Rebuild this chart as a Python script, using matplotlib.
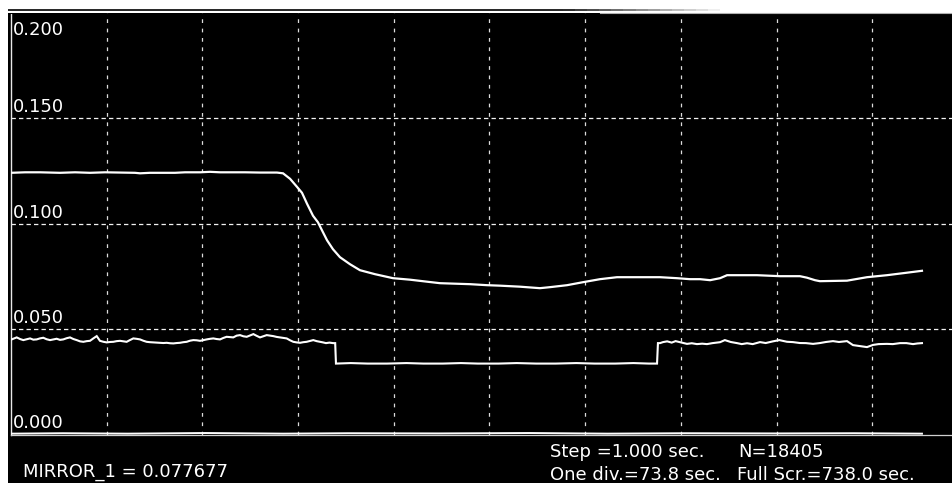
import matplotlib
matplotlib.use("Agg")
import matplotlib.pyplot as plt
from matplotlib.collections import LineCollection
import numpy as np

# ---- recorded channels (time in s, value) ----
mirror_t = [0, 10.8, 22.4, 37.8, 49.4, 60.9, 72.5, 95.6, 99.5, 107.2, 126.5, 134.2,
            145.8, 153.5, 161.2, 172.7, 180.5, 192.0, 205.1, 209.8, 215.2, 220.5,
            224.4, 228.3, 232.9, 236.7, 239.8, 243.7, 248.3, 253.7, 261.4, 269.1,
            280.7, 294.6, 307.7, 320.8, 330.8, 342.4, 354.0, 367.1, 377.1, 392.5,
            407.9, 415.6, 428.8, 441.1, 454.2, 467.3, 485.1, 500.5, 513.6, 523.6,
            531.4, 539.1, 546.8, 552.2, 575.3, 593.0, 608.4, 613.8, 620.0, 623.8,
            644.7, 660.1, 675.5, 687.9, 702.5]
mirror_v = [0.12417, 0.12441, 0.12441, 0.12417, 0.12441, 0.12417, 0.12441, 0.12417,
            0.12393, 0.12417, 0.12417, 0.12441, 0.12441, 0.12464, 0.12441, 0.12441,
            0.12441, 0.12429, 0.12429, 0.12393, 0.12133, 0.11754, 0.11469, 0.10948,
            0.10379, 0.10071, 0.09692, 0.09218, 0.08791, 0.08412, 0.08081, 0.07796,
            0.07607, 0.07417, 0.07346, 0.07251, 0.07180, 0.07156, 0.07133, 0.07085,
            0.07062, 0.07014, 0.06943, 0.06991, 0.07085, 0.07227, 0.07370, 0.07464,
            0.07464, 0.07464, 0.07417, 0.07370, 0.07370, 0.07322, 0.07417, 0.07559,
            0.07559, 0.07512, 0.07512, 0.07441, 0.07322, 0.07275, 0.07299, 0.07464,
            0.07559, 0.07654, 0.077677]

# second channel as (time, value) samples
beam_samples = [
    (0.5, .04512), (2.5, .04560), (4.4, .04607), (7.0, .04530), (9.5, .04479),
    (12.0, .04520), (14.7, .04559), (17.2, .04500), (19.8, .04512), (22.3, .04560),
    (24.9, .04590), (27.5, .04520), (30.1, .04479), (32.6, .04510), (35.2, .04543),
    (37.8, .04490), (40.3, .04512), (43.0, .04570), (45.5, .04607), (48.1, .04530),
    (50.7, .04479), (53.2, .04420), (55.8, .04398), (58.4, .04430), (60.9, .04445),
    (63.5, .04560), (66.1, .04668), (68.6, .04445), (71.2, .04400), (73.8, .04370),
    (76.3, .04390), (78.9, .04398), (81.5, .04430), (84.1, .04445), (86.6, .04420),
    (89.2, .04398), (91.7, .04480), (94.3, .04559), (96.9, .04540), (99.5, .04512),
    (102.0, .04450), (104.6, .04398), (107.2, .04380), (109.7, .04370), (112.3, .04360),
    (114.9, .04351), (117.5, .04340), (120.1, .04351), (122.6, .04330), (125.2, .04322),
    (127.8, .04340), (130.3, .04351), (132.9, .04380), (135.5, .04398), (138.0, .04450),
    (140.6, .04479), (143.2, .04470), (145.8, .04445), (148.3, .04480), (150.9, .04512),
    (153.5, .04540), (156.0, .04559), (158.6, .04530), (161.2, .04512), (163.7, .04580),
    (166.3, .04636), (168.9, .04620), (171.4, .04607), (174.0, .04690), (176.6, .04716),
    (179.2, .04660), (181.8, .04636), (184.3, .04700), (186.9, .04763), (189.5, .04680),
    (192.0, .04607), (194.6, .04660), (197.2, .04716), (199.7, .04690), (202.3, .04668),
    (204.9, .04630), (207.4, .04607), (210.0, .04580), (212.6, .04559), (215.2, .04470),
    (217.7, .04398), (220.3, .04370), (222.9, .04351), (225.4, .04380), (228.0, .04398),
    (230.6, .04440), (233.1, .04479), (235.7, .04430), (238.3, .04398), (240.6, .04370),
    (242.9, .04336), (245.6, .04360), (248.3, .04336), (250.0, .04336),
    (250.6, .03365), (262.0, .03389), (275.0, .03365), (290.0, .03365), (305.0, .03389),
    (318.0, .03365), (333.0, .03365), (347.0, .03389), (360.0, .03365), (376.0, .03365),
    (390.0, .03389), (405.0, .03365), (420.0, .03365), (436.0, .03389), (450.0, .03365),
    (466.0, .03365), (480.0, .03389), (492.0, .03365), (498.2, .03365),
    (498.9, .04336), (500.5, .04336), (502.8, .04384), (506.0, .04420), (509.5, .04360),
    (512.5, .04431), (515.9, .04380), (518.6, .04336), (521.3, .04300), (525.0, .04330),
    (529.0, .04289), (533.0, .04310), (536.7, .04289), (541.0, .04336), (546.8, .04380),
    (550.5, .04479), (555.0, .04390), (559.9, .04336), (563.5, .04289), (567.6, .04330),
    (572.0, .04289), (577.6, .04384), (582.0, .04340), (587.6, .04420), (592.5, .04479),
    (598.4, .04400), (603.0, .04384), (608.4, .04340), (613.0, .04336), (618.5, .04300),
    (623.5, .04336), (628.5, .04390), (633.9, .04431), (638.5, .04390), (644.7, .04431),
    (649.3, .04242), (654.0, .04200), (660.1, .04147), (664.7, .04250), (669.0, .04289),
    (675.5, .04300), (680.0, .04289), (685.6, .04336), (690.5, .04336), (695.6, .04289),
    (699.0, .04320), (702.5, .04336),
]
beam_t = [t for t, _ in beam_samples]
beam_v = [v for _, v in beam_samples]

base_t = [0, 40, 90, 150, 210, 260, 330, 400, 460, 520, 590, 650, 702.5]
base_v = [0.0004, 0.0006, 0.0004, 0.0007, 0.0004, 0.0006, 0.0005, 0.0007, 0.0004,
          0.0006, 0.0005, 0.0006, 0.0004]

y_ticks = [0.000, 0.050, 0.100, 0.150, 0.200]
y_tick_labels = ["0.000", "0.050", "0.100", "0.150", "0.200"]
full_screen = 738.0
n_div = 10

W, H = 952, 483
fig = plt.figure(figsize=(W / 100, H / 100), dpi=100, facecolor="white")

def fx(px):
    return px / W

def fy(py):
    return (H - py) / H

# black screen behind everything
fig.patches.append(plt.Rectangle((fx(8), 0), 1 - fx(8), fy(13), transform=fig.transFigure,
                                 facecolor="black", edgecolor="none", zorder=-10))

# window frame line along the top, fading out to the right
xs = np.linspace(8, 720, 60)
segs = [[(fx(a), fy(9.5)), (fx(b), fy(9.5))] for a, b in zip(xs[:-1], xs[1:])]
shade = np.clip((xs[:-1] - 560) / 160, 0, 1)
cols = [(0.15 + 0.85 * s, 0.15 + 0.85 * s, 0.15 + 0.85 * s) for s in shade]
fig.add_artist(LineCollection(segs, colors=cols, linewidths=1.4, transform=fig.transFigure))
fig.add_artist(plt.Line2D([fx(600), 1], [fy(13.2), fy(13.2)], color="#b0b0b0", lw=0.8,
                          transform=fig.transFigure))

ax = fig.add_axes([fx(11), fy(434.5), 957 / W, 421.5 / H])
ax.set_zorder(1)
ax.set_facecolor("black")
ax.set_xlim(0, full_screen)
ax.set_ylim(0, 0.2)
ax.set_xticks([])
ax.set_yticks([])
for s in ("top", "right"):
    ax.spines[s].set_visible(False)
ax.spines["left"].set_color("#e8e8e8")
ax.spines["left"].set_linestyle((0, (1, 1)))
ax.spines["left"].set_linewidth(1.0)
ax.spines["bottom"].set_color("#d0d0d0")
ax.spines["bottom"].set_linewidth(0.9)

div = full_screen / n_div
for k in range(1, n_div):
    ax.axvline(k * div, color="#dcdcdc", lw=0.9, ls=(0, (3, 4.5)), zorder=1)
for v in y_ticks[1:-1]:
    ax.axhline(v, color="#f2f2f2", lw=0.9, ls=(0, (3.5, 2.5)), zorder=1)

ax.plot(base_t, base_v, color="white", lw=1.4, zorder=3)
ax.plot(mirror_t, mirror_v, color="white", lw=1.6, zorder=3, solid_joinstyle="miter")
ax.plot(beam_t, beam_v, color="white", lw=1.5, zorder=3, solid_joinstyle="miter")

font = dict(family="DejaVu Sans", size=13, color="white", zorder=5)

# value labels along the left edge
for v, lab in zip(y_ticks, y_tick_labels):
    line_px = 434.5 - v * 2107.5
    base_px = 35 if v >= 0.2 else line_px - 6
    fig.text(fx(12.5), fy(base_px), lab, va="baseline", ha="left", **font)

fig.text(fx(23), fy(477), "MIRROR_1 = 0.077677", va="baseline", ha="left", **font)
fig.text(fx(550), fy(457), "Step =1.000 sec.", va="baseline", ha="left", **font)
fig.text(fx(738), fy(457), "N=18405", va="baseline", ha="left", **font)
fig.text(fx(550), fy(479.5), "One div.=73.8 sec.", va="baseline", ha="left", **font)
fig.text(fx(737), fy(479.5), "Full Scr.=738.0 sec.", va="baseline", ha="left", **font)

fig.savefig("out.png", dpi=100, facecolor="white")
